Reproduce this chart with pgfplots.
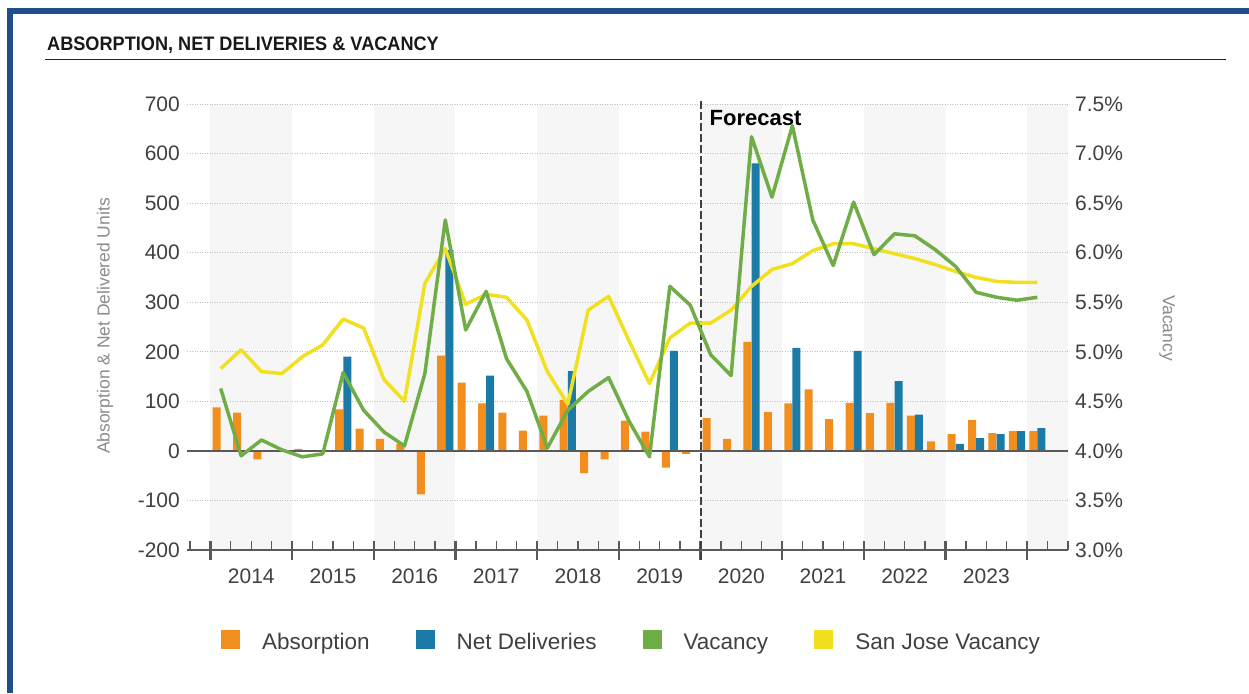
\documentclass[border=0pt]{standalone}
\usepackage{fontspec}
\setmainfont{Liberation Sans}
\newfontfamily\titlefont[FakeStretch=0.93]{Liberation Sans Bold}
\usepackage{pgfplots}
\usepackage{pgfplotstable}
\pgfplotsset{compat=1.18}
\definecolor{orangec}{HTML}{F28E1E}
\definecolor{bluec}{HTML}{1B7BA6}
\definecolor{greenc}{HTML}{70AD47}
\definecolor{yellowc}{HTML}{F0E020}
\definecolor{bandc}{HTML}{F6F6F6}
\definecolor{gridc}{HTML}{BFBFBF}
\definecolor{axisc}{HTML}{5A5A5A}
\definecolor{labc}{HTML}{404040}
\definecolor{ylabc}{HTML}{8C8C8C}
\definecolor{framec}{HTML}{1F4E8A}

\pgfplotstableread{
q abs vac sj
0 88 4.63 4.83
1 77 3.95 5.02
2 -17 4.11 4.80
3 0 4.01 4.78
4 4 3.94 4.95
5 0 3.97 5.07
6 84 4.79 5.33
7 45 4.41 5.24
8 24 4.19 4.72
9 14 4.05 4.50
10 -88 4.78 5.69
11 192 6.33 6.04
12 138 5.22 5.48
13 96 5.61 5.58
14 77 4.93 5.55
15 41 4.60 5.32
16 71 4.03 4.80
17 103 4.41 4.47
18 -45 4.60 5.42
19 -17 4.74 5.56
20 61 4.30 5.11
21 39 3.94 4.68
22 -34 5.66 5.14
23 -6 5.47 5.29
24 66 4.97 5.29
25 24 4.76 5.42
26 220 7.17 5.66
27 78 6.56 5.83
28 96 7.28 5.89
29 124 6.33 6.02
30 64 5.87 6.09
31 97 6.51 6.09
32 76 5.98 6.04
33 97 6.19 5.99
34 71 6.17 5.94
35 19 6.03 5.88
36 34 5.86 5.81
37 62 5.60 5.75
38 36 5.55 5.71
39 40 5.52 5.70
40 40 5.55 5.70
}\maindata

\pgfplotstableread{
q del
6 190
11 405
13 152
17 161
22 202
26 580
28 208
31 202
33 141
34 73
36 14
37 26
38 34
39 40
40 46
}\deldata

\pgfplotsset{myaxis/.style={at={(187pt,143pt)}, anchor=south west, scale only axis,
  width=881pt, height=446pt, xmin=-1.15, xmax=42}}

\begin{document}
\begin{tikzpicture}
\fill[white] (0,0) rectangle (1249pt,693pt);
\fill[framec] (7pt,0pt) rectangle (13pt,685pt);
\fill[framec] (7pt,679pt) rectangle (1249pt,685pt);
\node[anchor=base west, inner sep=0pt, font=\titlefont\fontsize{19.5}{23}\selectfont, text=black!90] at (47pt,642pt) {ABSORPTION, NET DELIVERIES \& VACANCY};
\draw[line width=1.6pt, black!85] (45pt,633.5pt) -- (1226pt,633.5pt);

% background bands
\begin{axis}[myaxis, ymin=-200, ymax=700, hide axis]
\fill[bandc] (axis cs:0,-200) rectangle (axis cs:4,700);
\fill[bandc] (axis cs:8,-200) rectangle (axis cs:12,700);
\fill[bandc] (axis cs:16,-200) rectangle (axis cs:20,700);
\fill[bandc] (axis cs:24,-200) rectangle (axis cs:28,700);
\fill[bandc] (axis cs:32,-200) rectangle (axis cs:36,700);
\fill[bandc] (axis cs:40,-200) rectangle (axis cs:42,700);
\end{axis}

% bars
\begin{axis}[myaxis, ymin=-200, ymax=700, clip=false,
  axis line style={draw=none}, major tick length=0pt, minor tick length=0pt,
  xtick={2,6,10,14,18,22,26,30,34,38},
  xticklabels={2014,2015,2016,2017,2018,2019,2020,2021,2022,2023},
  ytick={-200,-100,0,100,200,300,400,500,600,700},
  yticklabels={-200,-100,0,100,200,300,400,500,600,700},
  ymajorgrids, grid style={gridc, line width=1pt, dash pattern=on 1pt off 1.5pt},
  tick label style={font=\fontsize{21}{25}\selectfont, text=labc},
  xticklabel style={anchor=base, inner sep=0pt, yshift=-34pt},
  yticklabel style={anchor=east, inner sep=0pt, xshift=-7pt},
  ytick pos=left, xtick pos=bottom]
\addplot[ybar, bar width=0.39, bar shift=0pt, fill=orangec, draw=none] table[x expr=\thisrow{q}+0.3, y=abs]{\maindata};
\addplot[ybar, bar width=0.39, bar shift=0pt, fill=bluec, draw=none] table[x expr=\thisrow{q}+0.7, y=del]{\deldata};
\draw[axisc, line width=2pt] (axis cs:-1.15,0) -- (axis cs:42,0);
\draw[axisc, line width=2pt] (axis cs:-1.15,-200) -- (axis cs:42,-200);
\pgfplotsinvokeforeach{-1,...,42}{\draw[axisc, line width=1.2pt] (axis cs:#1,-200) -- ++(0pt,9pt);}
\pgfplotsinvokeforeach{0,4,...,40}{\draw[axisc, line width=2.2pt] (axis cs:#1,-200) ++(0pt,-10pt) -- ++(0pt,19pt);}
\draw[labc, line width=2pt, dash pattern=on 8pt off 3pt] (axis cs:24,-200) ++(0pt,-10pt) -- (axis cs:24,700) -- ++(0pt,3pt);
\node[anchor=base west, inner sep=0pt, font=\bfseries\fontsize{22}{26}\selectfont, text=black, xshift=9pt, yshift=-21pt] at (axis cs:24,700) {Forecast};
\end{axis}

% vacancy lines
\begin{axis}[myaxis, ymin=3, ymax=7.5, clip=false,
  axis line style={draw=none}, major tick length=0pt, xtick=\empty,
  ytick={3,3.5,4,4.5,5,5.5,6,6.5,7,7.5},
  yticklabels={3.0\%,3.5\%,4.0\%,4.5\%,5.0\%,5.5\%,6.0\%,6.5\%,7.0\%,7.5\%},
  ytick pos=right, yticklabel pos=right,
  yticklabel style={anchor=west, inner sep=0pt, xshift=7pt, font=\fontsize{21}{25}\selectfont, text=labc},
  legend image code/.code={\fill[#1] (0pt,-7pt) rectangle (19pt,12pt);},
  legend columns=4,
  legend style={draw=none, fill=none, inner sep=0pt, outer sep=0pt,
    at={(0.0386,-0.203)}, anchor=west, font=\fontsize{22.5}{27}\selectfont, text=labc,
    nodes={inner sep=0pt},
    /tikz/every odd column/.append style={column sep=22pt},
    /tikz/every even column/.append style={column sep=46pt}},
  legend entries={Absorption, Net Deliveries, Vacancy, San Jose Vacancy}]
\addlegendimage{fill=orangec, draw=none}
\addlegendimage{fill=bluec, draw=none}
\addlegendimage{fill=greenc, draw=none}
\addlegendimage{fill=yellowc, draw=none}
\addplot[forget plot, color=yellowc, line width=3.5pt, line join=round, mark=none] table[x expr=\thisrow{q}+0.5, y=sj]{\maindata};
\addplot[forget plot, color=greenc, line width=3.5pt, line join=round, mark=none] table[x expr=\thisrow{q}+0.5, y=vac]{\maindata};
\end{axis}

\node[rotate=90, text=ylabc, font=\fontsize{17.5}{21}\selectfont] at (105pt,367pt) {Absorption \& Net Delivered Units};
\node[rotate=-90, text=ylabc, font=\fontsize{17.5}{21}\selectfont] at (1167pt,365pt) {Vacancy};
\pgfresetboundingbox
\useasboundingbox (0,0) rectangle (1249pt,693pt);
\end{tikzpicture}
\end{document}
